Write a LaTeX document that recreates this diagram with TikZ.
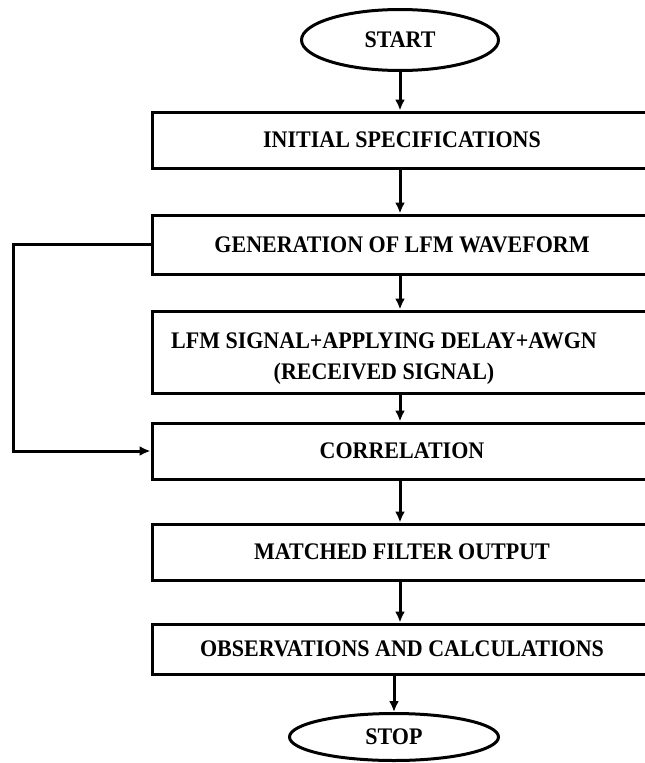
\documentclass[tikz,border=0pt]{standalone}
\usepackage{fontspec}
\setmainfont{Liberation Serif}
\usepackage{graphicx}
\usetikzlibrary{shapes.geometric,arrows.meta}
\newcommand{\tx}[1]{\scalebox{1}[1.08]{#1}}
\begin{document}
\begin{tikzpicture}[x=1pt,y=-1pt,
  box/.style={draw, line width=3pt, rectangle, minimum width=500pt, inner sep=0pt,
    font=\fontsize{22}{28.5}\selectfont\bfseries},
  term/.style={draw, line width=3pt, ellipse, inner sep=0pt,
    font=\fontsize{22}{28.5}\selectfont\bfseries},
  txt/.style={inner sep=0pt, align=center, font=\fontsize{22}{28.5}\selectfont\bfseries},
  arr/.style={line width=3pt, -{Latex[length=11pt,width=10pt]}}]
\useasboundingbox (0,0) rectangle (645,763);
\clip (0,0) rectangle (645,763);

\node[term, minimum width=197pt, minimum height=61pt] (start) at (400,40) {\tx{START}};
\node[box, minimum height=56pt] (init) at (402,140) {\tx{INITIAL SPECIFICATIONS}};
\node[box, minimum height=59pt] (gen) at (402,244.5) {\tx{GENERATION OF LFM WAVEFORM}};
\node[box, minimum height=82pt] (lfm) at (402,352) {};
\node[txt] (lfmtxt) at (384,358) {\tx{\begin{tabular}{@{}c@{}}LFM SIGNAL+APPLYING DELAY+AWGN\\(RECEIVED SIGNAL)\end{tabular}}};
\node[box, minimum height=56pt] (corr) at (402,451) {\tx{CORRELATION}};
\node[box, minimum height=56pt] (mf) at (402,552) {\tx{MATCHED FILTER OUTPUT}};
\node[box, minimum height=50pt] (obs) at (402,649) {\tx{OBSERVATIONS AND CALCULATIONS}};
\node[term, minimum width=209pt, minimum height=47pt] (stop) at (394,737) {\tx{STOP}};

\draw[arr] (start.south) -- (init.north -| start.south);
\draw[arr] (init.south -| start.south) -- (gen.north -| start.south);
\draw[arr] (gen.south -| start.south) -- (lfm.north -| start.south);
\draw[arr] (lfm.south -| start.south) -- (corr.north -| start.south);
\draw[arr] (corr.south -| start.south) -- (mf.north -| start.south);
\draw[arr] (mf.south -| start.south) -- (obs.north -| start.south);
\draw[arr] (obs.south -| stop.north) -- (stop.north);
\draw[arr] (gen.west) -- ++(-137,0) |- (corr.west);
\end{tikzpicture}
\end{document}
